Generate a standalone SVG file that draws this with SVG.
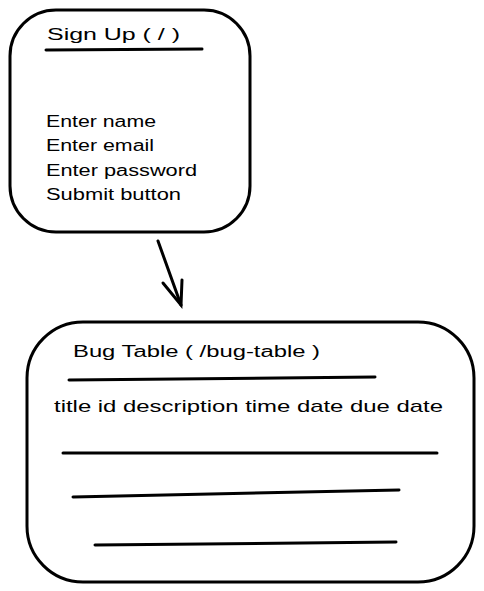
<svg xmlns="http://www.w3.org/2000/svg" width="484" height="591" viewBox="0 0 484 591">
<style>
.box{fill:#fff;stroke:#000;stroke-width:3}
.ln{stroke:#000;stroke-width:3;stroke-linecap:round;fill:none}
.t{font-family:"Liberation Sans",Arial,sans-serif;font-size:16px;fill:#000}
</style>
<rect width="484" height="591" fill="#fff"/>
<g id="signup">
<rect class="box" x="10" y="10" width="240" height="222" rx="46" ry="46"/>
<text class="t" x="47" y="40" textLength="133" lengthAdjust="spacingAndGlyphs">Sign Up ( / )</text>
<path class="ln" d="M46 50 L202 49"/>
<text class="t" x="46" y="127" textLength="110" lengthAdjust="spacingAndGlyphs">Enter name</text>
<text class="t" x="46" y="151" textLength="108" lengthAdjust="spacingAndGlyphs">Enter email</text>
<text class="t" x="46" y="176" textLength="151" lengthAdjust="spacingAndGlyphs">Enter password</text>
<text class="t" x="46" y="200" textLength="135" lengthAdjust="spacingAndGlyphs">Submit button</text>
</g>
<g id="connectors">
<path class="ln" d="M158 241 L181 305"/>
<path class="ln" d="M163 283 L181 305 L182 280"/>
</g>
<g id="bugtable">
<rect class="box" x="27" y="322" width="447" height="260" rx="56" ry="56"/>
<text class="t" x="73" y="357" textLength="247" lengthAdjust="spacingAndGlyphs">Bug Table ( /bug-table )</text>
<path class="ln" d="M69 380 L375 377"/>
<text class="t" x="54" y="412" textLength="389" lengthAdjust="spacingAndGlyphs" style="font-size:17px">title id description time date due date</text>
<path class="ln" d="M63 453 L437 453"/>
<path class="ln" d="M73 497 L399 490"/>
<path class="ln" d="M95 545 L396 542"/>
</g>
</svg>
